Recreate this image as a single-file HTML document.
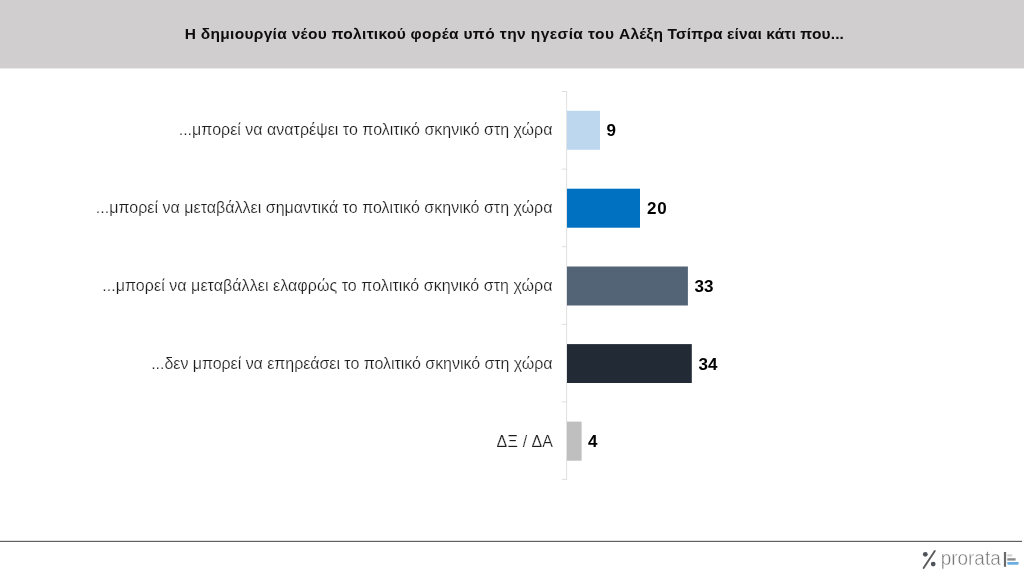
<!DOCTYPE html>
<html lang="el">
<head>
<meta charset="utf-8">
<title>Prorata</title>
<style>
html,body{margin:0;padding:0;}
body{width:1024px;height:576px;position:relative;overflow:hidden;background:#fff;font-family:"Liberation Sans",sans-serif;}
.hdr{position:absolute;left:0;top:0;width:1024px;height:68px;background:#d0cece;border-bottom:1px solid #ecebeb;}
.title{position:absolute;left:0;top:24px;width:1028.8px;text-align:center;font-weight:bold;font-size:15.5px;letter-spacing:0.283px;line-height:20px;color:#0d0d0d;white-space:nowrap;}
svg.chart{position:absolute;left:0;top:0;}
.lab{position:absolute;right:471.5px;width:540px;text-align:right;font-size:16px;line-height:20px;color:#1c1c1c;white-space:nowrap;-webkit-text-stroke:0.2px #fff;}
.val{position:absolute;font-weight:bold;font-size:17px;line-height:20px;color:#000;white-space:nowrap;}
</style>
</head>
<body>
<div class="hdr"></div>
<div class="title"><span style="letter-spacing:0.303px">Η δημιουργία νέου πολιτικού φορέα </span><span style="letter-spacing:0.433px">υπό την ηγεσία του </span><span style="letter-spacing:0.15px">Αλέξη Τσίπρα είναι κάτι που...</span></div>

<svg class="chart" width="1024" height="576" viewBox="0 0 1024 576">
  <!-- axis -->
  <g fill="#e0e0e0">
    <rect x="566.1" y="91" width="1" height="388.9"/>
    <rect x="561.6" y="91" width="5.5" height="1"/>
    <rect x="561.6" y="168.6" width="5.5" height="1"/>
    <rect x="561.6" y="246.2" width="5.5" height="1"/>
    <rect x="561.6" y="323.8" width="5.5" height="1"/>
    <rect x="561.6" y="401.4" width="5.5" height="1"/>
    <rect x="561.6" y="478.9" width="5.5" height="1"/>
  </g>
  <!-- bars -->
  <rect x="567" y="110.8" width="33" height="39" fill="#bdd7ee"/>
  <rect x="567" y="188.7" width="73" height="39" fill="#0070c0"/>
  <rect x="567" y="266.5" width="120.9" height="39" fill="#536477"/>
  <rect x="567" y="344.1" width="124.8" height="38.9" fill="#222a35"/>
  <rect x="567" y="421.6" width="14.6" height="39.1" fill="#bfbfbf"/>
  <!-- footer rule -->
  <rect x="0" y="540.8" width="1022" height="1.2" fill="#606060"/>
  <!-- logo -->
  <g>
    <line x1="934.8" y1="551" x2="923.6" y2="568" stroke="#5a5a5a" stroke-width="1.9" stroke-linecap="round"/>
    <circle cx="925.3" cy="554.3" r="2.4" fill="#4f545a"/>
    <circle cx="933.2" cy="564.1" r="2.4" fill="#4f545a"/>
    <text x="940.7" y="565" font-family="Liberation Sans, sans-serif" font-size="20.6" fill="#777" stroke="#fff" stroke-width="0.45" paint-order="fill stroke" textLength="60" lengthAdjust="spacingAndGlyphs">prorata</text>
    <rect x="1003.9" y="552" width="2.2" height="14.8" fill="#6a6a6a"/>
    <rect x="1007.3" y="554.3" width="4.9" height="2.2" fill="#d2d2d2"/>
    <rect x="1007.3" y="558.2" width="8.3" height="2.4" fill="#8c8c8c"/>
    <path d="M1007.3 562.1 H1018.6 V563.7 Q1018.6 564.8 1017.5 564.8 H1008.4 Q1007.3 564.8 1007.3 563.7 Z" fill="#6aaee0"/>
  </g>
</svg>

<div class="lab" style="top:120px;letter-spacing:0.015px">...μπορεί να ανατρέψει το πολιτικό σκηνικό στη χώρα</div>
<div class="lab" style="top:198px;letter-spacing:0.022px">...μπορεί να μεταβάλλει σημαντικά το πολιτικό σκηνικό στη χώρα</div>
<div class="lab" style="top:276px;letter-spacing:0.055px">...μπορεί να μεταβάλλει ελαφρώς το πολιτικό σκηνικό στη χώρα</div>
<div class="lab" style="top:354px;letter-spacing:-0.04px">...δεν μπορεί να επηρεάσει το πολιτικό σκηνικό στη χώρα</div>
<div class="lab" style="top:432px;letter-spacing:0.27px;right:470.7px">ΔΞ / ΔΑ</div>

<div class="val" style="left:606.5px;top:121px">9</div>
<div class="val" style="left:647px;top:199px;letter-spacing:0.7px">20</div>
<div class="val" style="left:694.5px;top:277px">33</div>
<div class="val" style="left:698.5px;top:355px">34</div>
<div class="val" style="left:588px;top:432px">4</div>
</body>
</html>
